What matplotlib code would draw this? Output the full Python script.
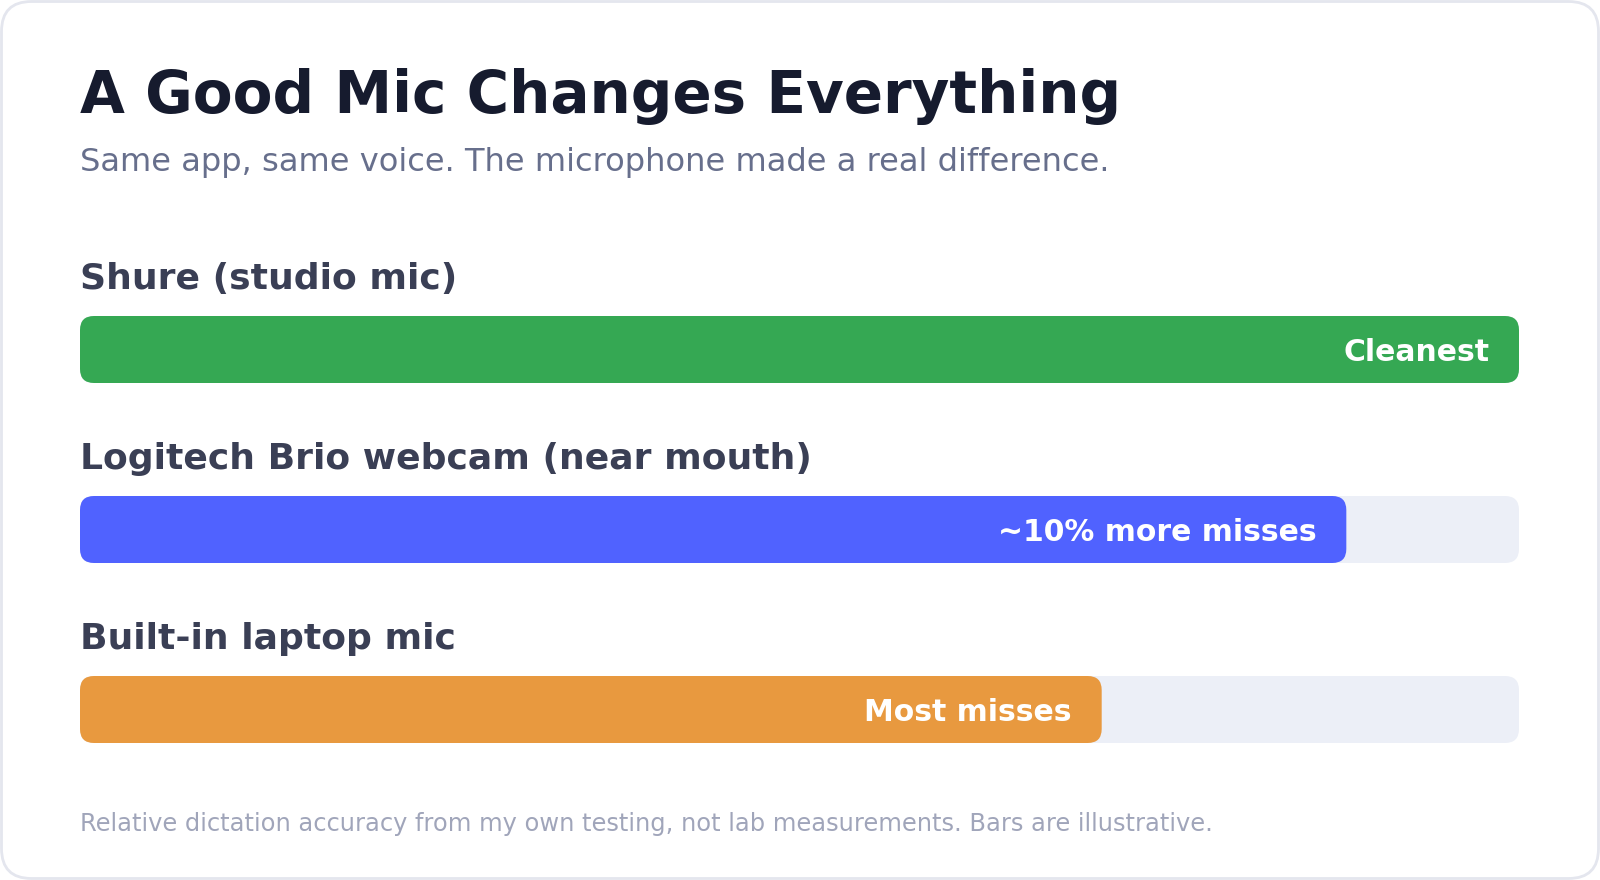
import matplotlib
matplotlib.use("Agg")
import matplotlib.pyplot as plt
from matplotlib.patches import FancyBboxPatch

# data
mics = ["Shure (studio mic)", "Logitech Brio webcam (near mouth)", "Built-in laptop mic"]
accuracy = [100, 88, 71]
bar_notes = ["Cleanest", "~10% more misses", "Most misses"]
bar_colors = ["#35A853", "#5062FF", "#E8993F"]

title = "A Good Mic Changes Everything"
subtitle = "Same app, same voice. The microphone made a real difference."
footnote = "Relative dictation accuracy from my own testing, not lab measurements. Bars are illustrative."

W, H = 1600, 880
fig = plt.figure(figsize=(W / 100, H / 100), dpi=100)
fig.patch.set_facecolor("white")

# card background in pixel coords
bg = fig.add_axes([0, 0, 1, 1])
bg.set_xlim(0, W)
bg.set_ylim(H, 0)
bg.axis("off")
bg.add_patch(FancyBboxPatch((1.5, 1.5), W - 3, H - 3,
                            boxstyle="round,pad=0,rounding_size=30",
                            facecolor="white", edgecolor="#E4E6EE", lw=2))

bg.text(80, 113, title, fontsize=41.8, fontweight="bold", color="#161B2E", va="baseline")
bg.text(80, 171, subtitle, fontsize=23.1, color="#676F8C", va="baseline")
bg.text(80, 831, footnote, fontsize=17.4, color="#A0A5BA", va="baseline")

# bar area: x 80..1519 px, bars 67px tall every 180px, first top at 316
left, right = 80, 1519
top, bar_h, step = 316, 67, 180
n = len(mics)
bottom = top + step * (n - 1) + bar_h
ax = fig.add_axes([left / W, 1 - bottom / H, (right - left) / W, (bottom - top) / H])
ax.axis("off")
h = bar_h / step
ax.set_xlim(0, 100)
ax.set_ylim(n - 1 + h / 2, -h / 2)

px_x = 100 / (right - left)   # data units per pixel, x
px_y = 1 / step                # data units per pixel, y
aspect = px_y / px_x
r = 14 * px_x

for i, (name, val, note, col) in enumerate(zip(mics, accuracy, bar_notes, bar_colors)):
    ax.add_patch(FancyBboxPatch((0, i - h / 2), 100, h,
                                boxstyle=f"round,pad=0,rounding_size={r}",
                                mutation_aspect=aspect, facecolor="#ECEFF7",
                                edgecolor="none"))
    ax.add_patch(FancyBboxPatch((0, i - h / 2), val, h,
                                boxstyle=f"round,pad=0,rounding_size={r}",
                                mutation_aspect=aspect, facecolor=col,
                                edgecolor="none"))
    ax.annotate(name, (0, i - h / 2), xytext=(0, 27), textcoords="offset pixels",
                fontsize=26, fontweight="bold", color="#3A3F55",
                ha="left", va="baseline", annotation_clip=False)
    ax.annotate(note, (val, i), xytext=(-30, 0), textcoords="offset pixels",
                fontsize=21.5, fontweight="bold", color="white",
                ha="right", va="center_baseline")

fig.savefig("out.png", dpi=100, facecolor="white")
